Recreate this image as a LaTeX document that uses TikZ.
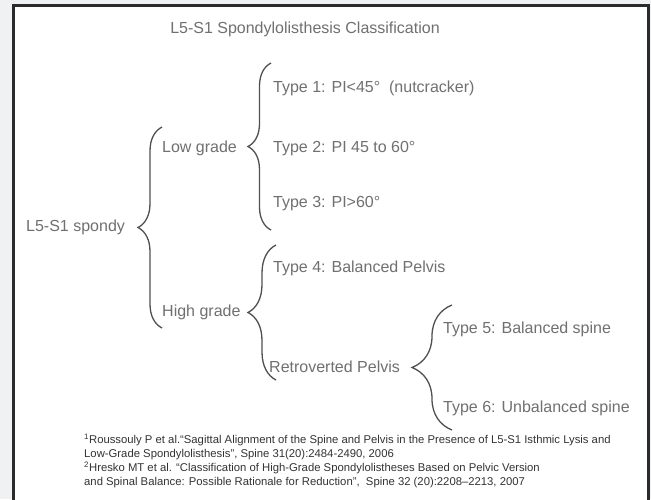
\documentclass[tikz,border=0pt]{standalone}
\usepackage{fontspec}
\setmainfont{Liberation Sans}
\usetikzlibrary{decorations.pathreplacing}
\definecolor{pagebg}{HTML}{F0F1F3}
\definecolor{framecol}{HTML}{2B2B2B}
\definecolor{labelcol}{HTML}{707070}
\definecolor{bracecol}{HTML}{505050}
\definecolor{refcol}{HTML}{333333}

\begin{document}
\begin{tikzpicture}[x=1pt, y=-1pt,
  every node/.style={inner sep=0pt, text=labelcol},
  lbl/.style={anchor=west, text height=11.5pt, text depth=0pt, font=\fontsize{16}{19}\selectfont},
  curly/.style={draw=bracecol, line width=1.3pt, decorate, decoration={brace, amplitude=#1}},
  refs/.style={anchor=north west, align=left, text=refcol, font=\fontsize{11.3}{14}\selectfont}]
  \useasboundingbox (0,0) rectangle (651,499);
  \fill[pagebg] (0,0) rectangle (651,499);
  \draw[framecol, line width=3pt, fill=white] (13.5,5) rectangle (648.5,520);

  \node[lbl, anchor=center] (title) at (305,28) {L5-S1 Spondylolisthesis Classification};
  \node[lbl] (root) at (26,226) {L5-S1 spondy};
  \node[lbl] (low) at (162,147) {Low grade};
  \node[lbl] (high) at (162,311) {High grade};
  \node[lbl] (t1) at (273,87) {Type 1: PI<45°\ \ (nutcracker)};
  \node[lbl] (t2) at (273,147) {Type 2: PI 45 to 60°};
  \node[lbl] (t3) at (273,202) {Type 3: PI>60°};
  \node[lbl] (t4) at (273,267) {Type 4: Balanced Pelvis};
  \node[lbl] (retro) at (269,367) {Retroverted Pelvis};
  \node[lbl] (t5) at (443,328) {Type 5: Balanced spine};
  \node[lbl] (t6) at (443,407) {Type 6: Unbalanced spine};

  % brace ends
  \coordinate (rootbot) at (162,328);
  \coordinate (roottop) at (162,127);
  \coordinate (lowbot) at (271,230);
  \coordinate (lowtop) at (271,63);
  \coordinate (highbot) at (276,380);
  \coordinate (hightop) at (276,245);
  \coordinate (retrobot) at (452,430);
  \coordinate (retrotop) at (452,305);

  \draw[curly=24] (rootbot) -- (roottop);
  \draw[curly=23] (lowbot) -- (lowtop);
  \draw[curly=28] (highbot) -- (hightop);
  \draw[curly=40] (retrobot) -- (retrotop);

  \node[refs] (cite) at (84,434) {\textsuperscript{1}Roussouly P et al.“Sagittal Alignment of the Spine and Pelvis in the Presence of L5-S1 Isthmic Lysis and\\
    Low-Grade Spondylolisthesis”, Spine 31(20):2484-2490, 2006\\
    \textsuperscript{2}Hresko MT et al. “Classification of High-Grade Spondylolistheses Based on Pelvic Version\\
    and Spinal Balance: Possible Rationale for Reduction”,\ \ Spine 32 (20):2208–2213, 2007};
\end{tikzpicture}
\end{document}
